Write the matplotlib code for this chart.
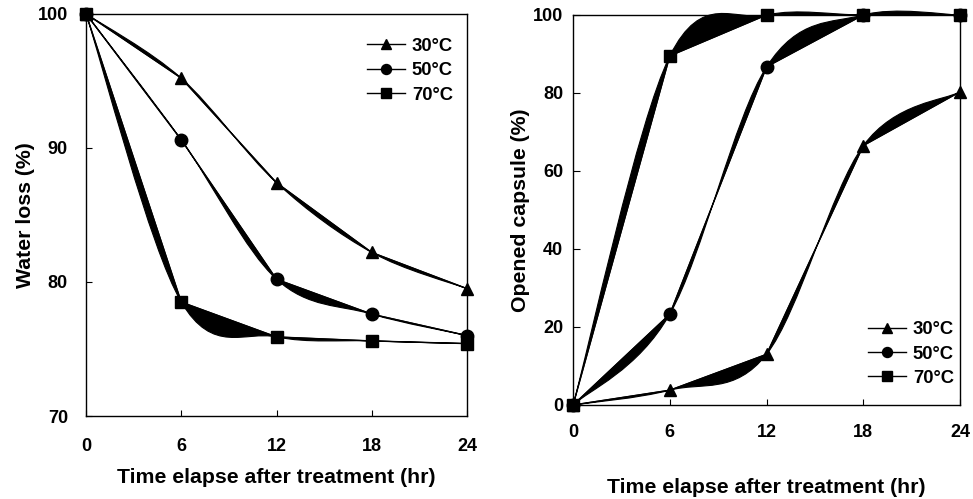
import numpy as np
import matplotlib
matplotlib.use("Agg")
import matplotlib.pyplot as plt
from matplotlib.path import Path
from matplotlib.patches import PathPatch

plt.rcParams['font.family'] = ['Liberation Sans', 'DejaVu Sans']
plt.rcParams['font.weight'] = 'bold'

hours = [0, 6, 12, 18, 24]
labels = ['30°C', '50°C', '70°C']
markers = ['^', 'o', 's']

water_30 = [100, 95.2, 87.4, 82.2, 79.5]
water_50 = [100, 90.6, 80.2, 77.6, 76.0]
water_70 = [100, 78.5, 75.9, 75.6, 75.4]

open_30 = [0, 3.8, 13.0, 66.5, 80.3]
open_50 = [0, 23.3, 86.7, 100, 100]
open_70 = [0, 89.5, 100, 100, 100]


def wedges(ax, x, y):
    # straight segment + excel-like smoothed segment, area between filled
    pts = np.column_stack([x, y]).astype(float)
    n = len(pts)
    for i in range(n - 1):
        p0 = pts[i - 1] if i > 0 else pts[i]
        p1 = pts[i]
        p2 = pts[i + 1]
        p3 = pts[i + 2] if i + 2 < n else pts[i + 1]
        c1 = p1 + (p2 - p0) / 6
        c2 = p2 - (p3 - p1) / 6
        verts = [p1, p2, c2, c1, p1, p1]
        codes = [Path.MOVETO, Path.LINETO, Path.CURVE4, Path.CURVE4, Path.CURVE4, Path.CLOSEPOLY]
        ax.add_patch(PathPatch(Path(verts, codes), facecolor='black', edgecolor='black',
                               lw=0.8, clip_on=False))


def panel(ax, series, ylim, yticks):
    for ys, lab, m in zip(series, labels, markers):
        wedges(ax, hours, ys)
        ax.plot(hours, ys, color='black', lw=1.0, marker=m, markersize=9, label=lab, clip_on=False, zorder=5)
    ax.set_xlim(0, 24)
    ax.set_ylim(*ylim)
    ax.set_xticks(hours)
    ax.set_yticks(yticks)
    for s in ax.spines.values():
        s.set_linewidth(1.0)


fig = plt.figure(figsize=(9.73, 4.99), dpi=100)
ax1 = fig.add_axes([0.0884, 0.1663, 0.3916, 0.806])
ax2 = fig.add_axes([0.589, 0.1884, 0.3977, 0.7816])

leg_kw = dict(frameon=False, fontsize=13.3, handlelength=2.05, markerscale=0.8,
              labelspacing=0.4, handletextpad=0.38, borderpad=0, borderaxespad=0)

panel(ax1, [water_30, water_50, water_70], (70, 100), [70, 80, 90, 100])
ax1.tick_params(axis='x', direction='in', length=4, pad=16, labelsize=13)
ax1.tick_params(axis='y', direction='in', length=4, pad=13, labelsize=13)
ax1.set_xlabel('Time elapse after treatment (hr)', fontsize=15.3, fontweight='bold', labelpad=9)
ax1.set_ylabel('Water loss (%)', fontsize=15.3, fontweight='bold', labelpad=2)
ax1.legend(loc='upper left', bbox_to_anchor=(0.7375, 0.94), **leg_kw)

panel(ax2, [open_30, open_50, open_70], (0, 100), [0, 20, 40, 60, 80, 100])
ax2.tick_params(axis='x', direction='in', length=4, pad=14, labelsize=13)
ax2.tick_params(axis='y', direction='in', length=5, pad=7, labelsize=13)
ax2.set_xlabel('Time elapse after treatment (hr)', fontsize=15.3, fontweight='bold', labelpad=26)
ax2.set_ylabel('Opened capsule (%)', fontsize=15.3, fontweight='bold', labelpad=2)
ax2.legend(loc='upper left', bbox_to_anchor=(0.762, 0.215), **leg_kw)

fig.savefig('out.png', dpi=100)
